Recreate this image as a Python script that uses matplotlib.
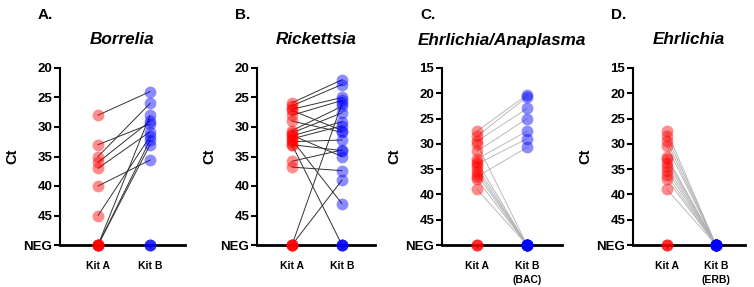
import matplotlib
matplotlib.use("Agg")
import matplotlib.pyplot as plt

plt.rcParams['font.family'] = ['Liberation Sans', 'DejaVu Sans']

NEG = 50  # position used for negative results

# Panel A: Borrelia (paired samples: Kit A Ct, Kit B Ct)
borrelia_a = [28, 33, 35, 36, 37, 40, 45, NEG, NEG, NEG, NEG, NEG, NEG]
borrelia_b = [24, 29.5, 26, 29, 30.8, 35.6, 31.6, 28, 32.2, 33, NEG, NEG, NEG]

# Panel B: Rickettsia
rick_a = [25.9, 26.4, 27, 27.2, 28, 29, 30.6, 31, 31.5, 32, 32.5, 33, 33, 35.8, 36.8, 31.4, 32.2, NEG, NEG, NEG, NEG, NEG]
rick_b = [22.0, 22.8, 25, 30.6, 25.5, 30.9, 26.5, 27.6, 29.1, 29.8, 32.2, 34, NEG, 33.9, 37.4, 35, 43, 26, 39, NEG, NEG, NEG]

# Panel C: Ehrlichia/Anaplasma (Kit B = BAC)
ea_a = [27.5, 28.5, 29.5, 31.5, 33, 34, 36.5, 30, 33.5, 34.5, 35.3, 36, 37, 39, NEG, NEG, NEG]
ea_b = [20.3, 20.7, 23, 25, 27.5, 29, 30.7, NEG, NEG, NEG, NEG, NEG, NEG, NEG, NEG, NEG, NEG]

# Panel D: Ehrlichia (Kit B = ERB)
ehr_a = [27.5, 28.5, 29.5, 30.5, 32.5, 33, 33.7, 34.5, 35.3, 36.2, 37, 39, NEG, NEG, NEG]
ehr_b = [NEG, NEG, NEG, NEG, NEG, NEG, NEG, NEG, NEG, NEG, NEG, NEG, NEG, NEG, NEG]

panels = [
    dict(letter="A.", title="Borrelia", a=borrelia_a, b=borrelia_b,
         ticks=[20, 25, 30, 35, 40, 45, NEG], top=20,
         xlabels=["Kit A", "Kit B"], line="#333333", lw=0.7),
    dict(letter="B.", title="Rickettsia", a=rick_a, b=rick_b,
         ticks=[20, 25, 30, 35, 40, 45, NEG], top=20,
         xlabels=["Kit A", "Kit B"], line="#333333", lw=0.7),
    dict(letter="C.", title="Ehrlichia/Anaplasma", a=ea_a, b=ea_b,
         ticks=[15, 20, 25, 30, 35, 40, 45, NEG], top=15,
         xlabels=["Kit A", "Kit B\n(BAC)"], line="#b0b0b0", lw=0.6),
    dict(letter="D.", title="Ehrlichia", a=ehr_a, b=ehr_b,
         ticks=[15, 20, 25, 30, 35, 40, 45, NEG], top=15,
         xlabels=["Kit A", "Kit B\n(ERB)"], line="#b0b0b0", lw=0.6),
]

W, H = 754, 287
fig = plt.figure(figsize=(W / 100, H / 100), dpi=100)

# pixel layout: (spine x, width, xlim)
layout = [
    (60, 125, (-0.73, 1.67)),
    (257, 118, (-0.70, 1.66)),
    (442, 120, (-0.70, 1.70)),
    (633, 112, (-0.69, 1.59)),
]
top_px, bot_px = 68, 245

for p, (x0, w, xl) in zip(panels, layout):
    ax = fig.add_axes([x0 / W, 1 - bot_px / H, w / W, (bot_px - top_px) / H])
    for ya, yb in zip(p["a"], p["b"]):
        if not (ya == NEG and yb == NEG):
            ax.plot([0, 1], [ya, yb], color=p["line"], lw=p["lw"], zorder=2, clip_on=False)
    for ya in p["a"]:
        ax.plot(0, ya, 'o', ms=8.5, color='#ff0000', alpha=0.45, mec='none', zorder=3, clip_on=False)
    for yb in p["b"]:
        ax.plot(1, yb, 'o', ms=8.5, color='#0000ff', alpha=0.45, mec='none', zorder=3, clip_on=False)
    ax.set_xlim(*xl)
    ax.set_ylim(NEG, p["top"])
    ax.set_yticks(p["ticks"])
    ax.set_yticklabels([("NEG" if t == NEG else str(t)) for t in p["ticks"]],
                       fontsize=9.5, fontweight='bold')
    ax.set_xticks([0, 1])
    ax.set_xticklabels(p["xlabels"], fontsize=7.5, fontweight='bold', linespacing=1.45)
    for s in ["top", "right"]:
        ax.spines[s].set_visible(False)
    ax.spines["left"].set_linewidth(1.5)
    ax.spines["bottom"].set_linewidth(2)
    ax.tick_params(axis='y', direction='out', length=4, width=1.5, pad=1.5)
    ax.tick_params(axis='x', direction='out', length=2.5, width=1, pad=9)
    ax.set_ylabel("Ct", fontsize=10.5, fontweight='bold', labelpad=3)
    ax.set_facecolor('none')
    cx = (x0 + w / 2) / W
    fig.text(cx, 1 - 40 / H, p["title"], fontsize=12.3, fontweight='bold',
             fontstyle='italic', ha='center', va='center')
    fig.text((x0 - 22) / W, 1 - 15 / H, p["letter"], fontsize=11,
             fontweight='bold', ha='left', va='center')

fig.savefig("out.png", dpi=100)
